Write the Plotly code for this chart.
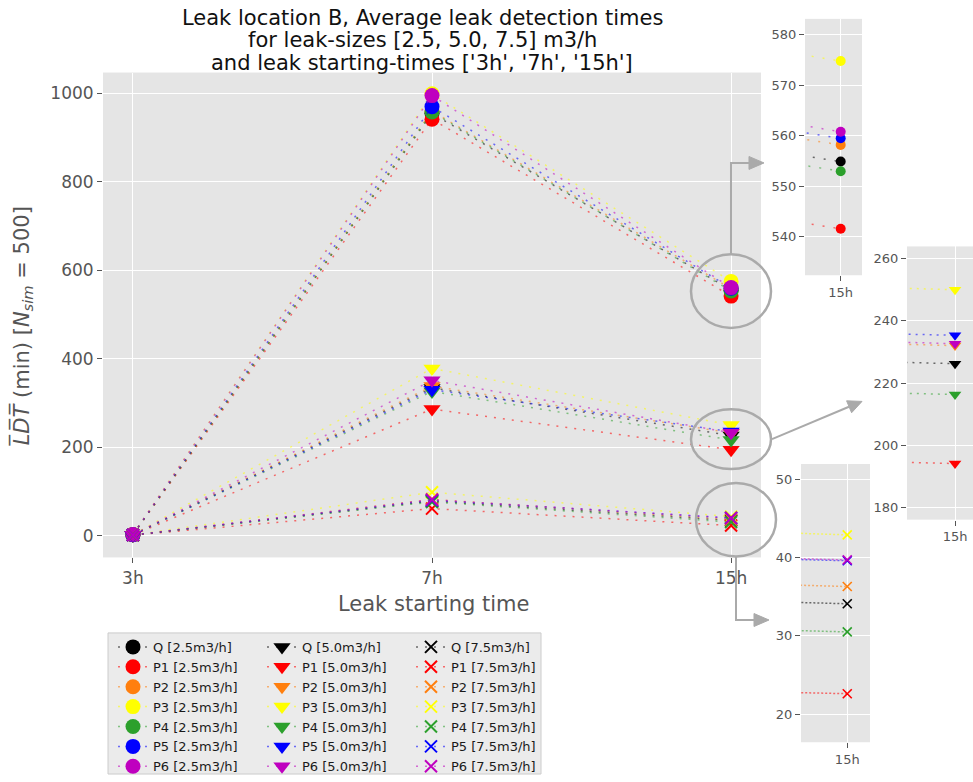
import plotly.graph_objects as go

W, H = 973, 782

# Leak starting times (categorical positions 0, 1, 2)
times = ["3h", "7h", "15h"]
xpos = [0, 1, 2]

sensors = ["Q", "P1", "P2", "P3", "P4", "P5", "P6"]
colors = ["#000000", "#ff0000", "#ff7f0e", "#ffff00", "#2ca02c", "#0000ff", "#bf00bf"]
leak_sizes = ["2.5", "5.0", "7.5"]

# Average leak detection times (min) per sensor, leak size 2.5 m3/h
ldt_2_5 = {
    "Q": [2.0, 955.0, 554.9],
    "P1": [1.8, 941.6, 541.6],
    "P2": [2.2, 960.0, 558.2],
    "P3": [2.4, 999.0, 574.8],
    "P4": [1.9, 958.0, 553.0],
    "P5": [2.1, 970.0, 559.5],
    "P6": [2.3, 995.0, 560.8],
}
# leak size 5.0 m3/h
ldt_5_0 = {
    "Q": [1.5, 334.0, 226.2],
    "P1": [1.3, 286.0, 194.2],
    "P2": [1.6, 338.0, 232.0],
    "P3": [1.8, 378.0, 249.9],
    "P4": [1.4, 326.0, 216.3],
    "P5": [1.5, 330.0, 235.3],
    "P6": [1.7, 351.0, 232.6],
}
# leak size 7.5 m3/h
ldt_7_5 = {
    "Q": [1.2, 78.0, 34.1],
    "P1": [1.0, 61.0, 22.6],
    "P2": [1.2, 82.0, 36.3],
    "P3": [1.4, 98.0, 42.9],
    "P4": [1.1, 76.0, 30.5],
    "P5": [1.2, 80.0, 39.6],
    "P6": [1.3, 81.0, 39.7],
}

title_lines = [
    "Leak location B, Average leak detection times",
    "for leak-sizes [2.5, 5.0, 7.5] m3/h",
    "and leak starting-times ['3h', '7h', '15h']",
]

groups = [
    ("2.5", ldt_2_5, "circle", 15, 10, "legend", "x2", "y2", "2px,9px"),
    ("5.0", ldt_5_0, "triangle-down", 15, 11, "legend2", "x3", "y3", "2px,5px"),
    ("7.5", ldt_7_5, "x-thin", 12, 9, "legend3", "x4", "y4", "2px,2px"),
]


def fx(px):
    return px / W


def fy(py):
    return 1 - py / H


def rgba(hexc, a):
    h = hexc.lstrip("#")
    r, g, b = int(h[0:2], 16), int(h[2:4], 16), int(h[4:6], 16)
    return f"rgba({r},{g},{b},{a})"


fig = go.Figure()

for size, data, symbol, msize, isize, leg, ix, iy, idash in groups:
    for name, col in zip(sensors, colors):
        marker = dict(symbol=symbol, size=msize, color=col)
        imarker = dict(symbol=symbol, size=isize, color=col)
        if symbol == "x-thin":
            marker["line"] = dict(color=col, width=2)
            imarker["line"] = dict(color=col, width=1.6)
        # main panel
        fig.add_trace(go.Scatter(
            x=xpos, y=data[name], mode="lines+markers",
            name=f"{name} [{size}m3/h]", legend=leg,
            line=dict(color=rgba(col, 0.55), width=1.5, dash="2px,7px"),
            marker=marker, xaxis="x", yaxis="y",
        ))
        # zoomed panel around 15h
        fig.add_trace(go.Scatter(
            x=xpos, y=data[name], mode="lines+markers", showlegend=False,
            line=dict(color=rgba(col, 0.55), width=1.5, dash=idash),
            marker=imarker, xaxis=ix, yaxis=iy, hoverinfo="skip",
        ))

tick_font = dict(family="DejaVu Sans", size=17, color="#555555")
inset_font = dict(family="DejaVu Sans", size=13, color="#555555")
common = dict(showgrid=True, gridcolor="white", gridwidth=1.4, zeroline=False,
              ticks="outside", ticklen=5, tickcolor="#555555", tickwidth=1,
              showline=False)

layout = dict(
    width=W, height=H,
    margin=dict(l=0, r=0, t=0, b=0),
    paper_bgcolor="white", plot_bgcolor="#e5e5e5",
    font=dict(family="DejaVu Sans", color="#000000"),
    xaxis=dict(domain=[fx(103), fx(761)], range=[-0.1, 2.1], tickvals=xpos,
               ticktext=times, tickfont=tick_font, anchor="y", **common),
    yaxis=dict(domain=[fy(561), fy(73)], range=[-49.4, 1047.2], tickvals=[0, 200, 400, 600, 800, 1000],
               tickfont=tick_font, anchor="x", **common),
    xaxis2=dict(domain=[fx(805), fx(862)], range=[1.99727, 2.00163], tickvals=[2], ticktext=["15h"],
                tickfont=inset_font, anchor="y2", **common),
    yaxis2=dict(domain=[fy(277), fy(19)], range=[532.4, 583.15], tickvals=[540, 550, 560, 570, 580],
                tickfont=inset_font, anchor="x2", **common),
    xaxis3=dict(domain=[fx(907), 1.0], range=[1.99631, 2.00138], tickvals=[2], ticktext=["15h"],
                tickfont=inset_font, anchor="y3", **common),
    yaxis3=dict(domain=[fy(523), fy(248)], range=[176.2, 263.8], tickvals=[180, 200, 220, 240, 260],
                tickfont=inset_font, anchor="x3", **common),
    xaxis4=dict(domain=[fx(801), fx(870)], range=[1.99644, 2.00175], tickvals=[2], ticktext=["15h"],
                tickfont=inset_font, anchor="y4", **common),
    yaxis4=dict(domain=[fy(747), fy(467)], range=[16.4, 51.96], tickvals=[20, 30, 40, 50],
                tickfont=inset_font, anchor="x4", **common),
    showlegend=True,
)

leg_common = dict(xanchor="left", yanchor="top", bgcolor="rgba(0,0,0,0)",
                  font=dict(family="DejaVu Sans", size=13, color="#1a1a1a"),
                  itemwidth=30, tracegroupgap=0, orientation="v")
layout["legend"] = dict(x=fx(113), y=fy(636), **leg_common)
layout["legend2"] = dict(x=fx(262), y=fy(636), **leg_common)
layout["legend3"] = dict(x=fx(411), y=fy(636), **leg_common)

fig.update_layout(**layout)

# Title, one annotation per line
for i, line in enumerate(title_lines):
    fig.add_annotation(
        text=line, x=fx(422), y=fy(18 + 22.5 * i), xref="paper", yref="paper",
        xanchor="center", yanchor="middle", showarrow=False,
        font=dict(family="DejaVu Sans", size=21, color="#111111"),
    )
fig.add_annotation(
    text="Leak starting time", x=fx(433), y=fy(608), xref="paper", yref="paper",
    xanchor="center", yanchor="middle", showarrow=False,
    font=dict(family="DejaVu Sans", size=21, color="#555555"),
)
fig.add_annotation(
    text="<i>L\u0305D\u0305T\u0305</i> (min) [<i>N</i><sub><i>sim</i></sub> = 500]",
    x=fx(22), y=fy(328), xref="paper", yref="paper", textangle=-90,
    xanchor="center", yanchor="middle", showarrow=False,
    font=dict(family="DejaVu Sans", size=21, color="#555555"),
)

shapes = []
# legend frame
shapes.append(dict(type="rect", xref="paper", yref="paper", layer="below",
                   x0=fx(108), x1=fx(541), y0=fy(779), y1=fy(637),
                   fillcolor="#ebebeb", line=dict(color="#cccccc", width=1)))

gray = "#aaaaaa"
# highlight ellipses around the 15h clusters
for cx, cy, rx, ry in [(731, 293, 40, 37), (731, 442, 40, 30), (736, 523, 40, 37)]:
    shapes.append(dict(type="circle", xref="paper", yref="paper",
                       x0=fx(cx - rx), x1=fx(cx + rx), y0=fy(cy + ry), y1=fy(cy - ry),
                       line=dict(color=gray, width=2.5)))


def poly(points):
    return "M " + " L ".join(f"{fx(a):.5f},{fy(b):.5f}" for a, b in points)


# connector lines
for pts in [[(731, 256), (731, 164), (750, 164)],
            [(772, 442), (849, 409.4)],
            [(736, 560), (736, 624), (755, 624)]]:
    shapes.append(dict(type="path", xref="paper", yref="paper", path=poly(pts),
                       line=dict(color=gray, width=2)))
# arrow heads
for pts in [[(749, 157.5), (764, 164), (749, 170.5)],
            [(851.6, 415.4), (862, 404), (846.6, 403.4)],
            [(754, 617.5), (769, 624), (754, 630.5)]]:
    shapes.append(dict(type="path", xref="paper", yref="paper", path=poly(pts) + " Z",
                       fillcolor=gray, line=dict(color=gray, width=1)))

fig.update_layout(shapes=shapes)

fig.write_html("out.html")
